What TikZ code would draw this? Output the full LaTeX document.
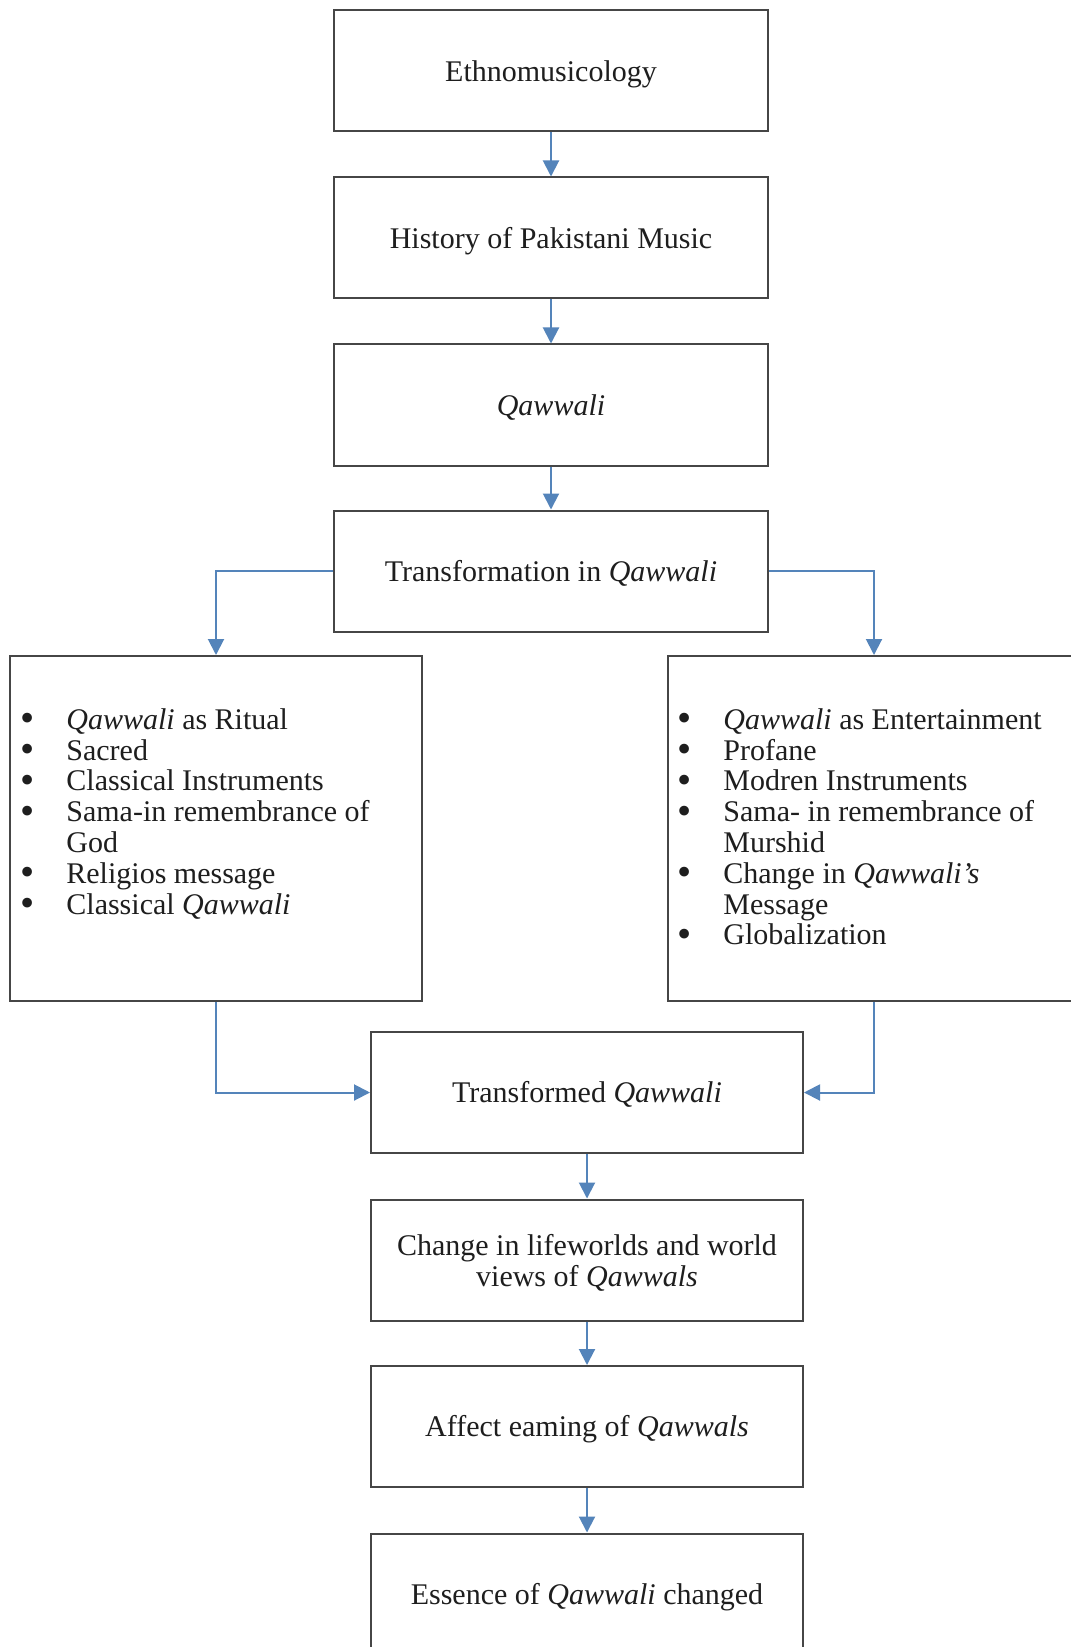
\documentclass[tikz,border=0pt]{standalone}
\usepackage{fontspec}
\usepackage{graphicx}
\setmainfont{Liberation Serif}
\usetikzlibrary{arrows.meta}
\definecolor{lnblue}{RGB}{84,132,186}
\definecolor{bxgray}{RGB}{70,70,70}
\definecolor{txtc}{RGB}{30,30,30}
\newcommand\qw{\textit{Qawwali}}
\newcommand\bul[1]{\makebox[23pt][l]{\smash{\raisebox{-1.2pt}{\scalebox{1.35}{\textbullet}}}}#1}
\newcommand\cont[1]{\hspace*{23pt}#1}
\begin{document}
\begin{tikzpicture}[x=0.5pt,y=-0.5pt,
  boxst/.style={draw=bxgray,line width=1pt,fill=white,minimum width=217pt,minimum height=60.5pt,inner sep=0pt,align=center,font=\fontsize{15}{15.4}\selectfont,text=txtc,text height=10.2pt,text depth=0pt},
  conn/.style={draw=lnblue,line width=1pt,-{Triangle[length=8pt,width=8pt]}},
  listst/.style={anchor=north west,inner sep=0pt,align=left,font=\fontsize{15}{15.4}\selectfont,text=txtc}]
\useasboundingbox[fill=white] (0,0) rectangle (1070,1647);
\node[boxst] (b1) at (551,71) {Ethnomusicology};
\node[boxst] (b2) at (551,238) {History of Pakistani Music};
\node[boxst] (b3) at (551,405) {\qw};
\node[boxst] (b4) at (551,571) {Transformation in \qw};
\node[boxst,minimum width=205.75pt,minimum height=172.5pt] (lb) at (216,828.5) {};
\node[boxst,minimum width=205.75pt,minimum height=172.5pt] (rb) at (874,828.5) {};
\node[boxst,minimum width=216pt] (b5) at (587,1092.5) {Transformed \qw};
\node[boxst,minimum width=216pt,text height=28.8pt,text depth=] (b6) at (587,1260) {Change in lifeworlds and world\\views of \textit{Qawwals}};
\node[boxst,minimum width=216pt] (b7) at (587,1426.5) {Affect eaming of \textit{Qawwals}};
\node[boxst,minimum width=216pt] (b8) at (587,1594) {Essence of \qw{} changed};
\node[listst] (ll) at (20,708) {\bul{\qw{} as Ritual}\\ \bul{Sacred}\\ \bul{Classical Instruments}\\ \bul{Sama-in remembrance of}\\ \cont{God}\\ \bul{Religios message}\\ \bul{Classical \qw}};
\node[listst] (rl) at (677,708) {\bul{\qw{} as Entertainment}\\ \bul{Profane}\\ \bul{Modren Instruments}\\ \bul{Sama- in remembrance of}\\ \cont{Murshid}\\ \bul{Change in \textit{Qawwali's}}\\ \cont{Message}\\ \bul{Globalization}};
\draw[conn] (b1.south) -- (b2.north);
\draw[conn] (b2.south) -- (b3.north);
\draw[conn] (b3.south) -- (b4.north);
\draw[conn] (b4.west) -| (lb.north);
\draw[conn] (b4.east) -| (rb.north);
\draw[conn] (lb.south) |- (b5.west);
\draw[conn] (rb.south) |- (b5.east);
\draw[conn] (b5.south) -- (b6.north);
\draw[conn] (b6.south) -- (b7.north);
\draw[conn] (b7.south) -- (b8.north);
\end{tikzpicture}
\end{document}
